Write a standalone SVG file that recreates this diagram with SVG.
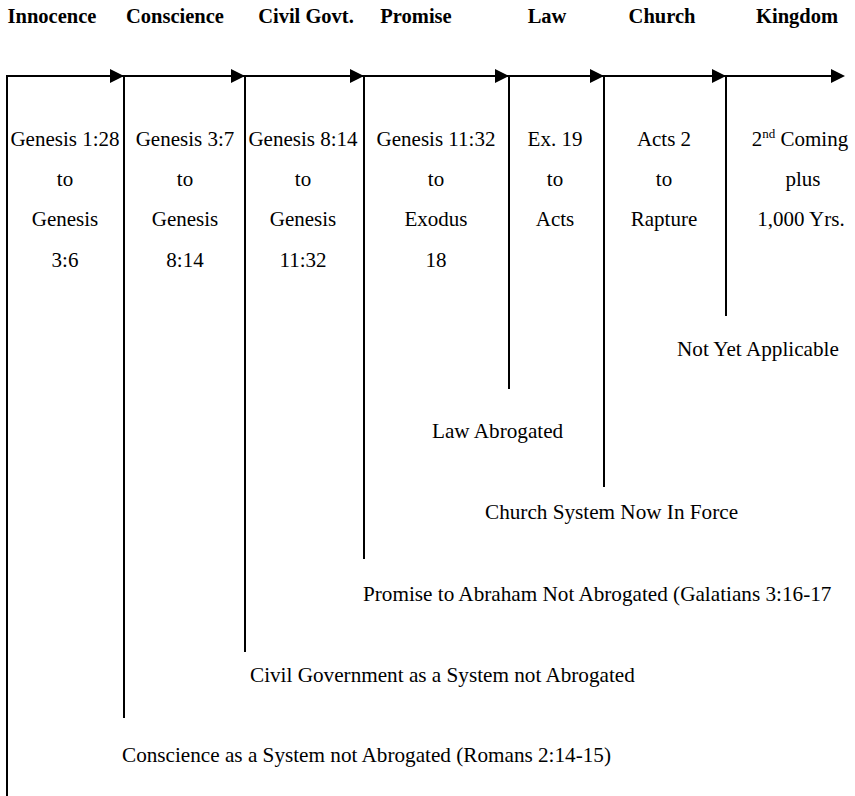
<svg xmlns="http://www.w3.org/2000/svg" width="855" height="796" viewBox="0 0 855 796">
<style>
.hd{font-family:"Liberation Serif","Times New Roman",serif;font-weight:bold;font-size:20.5px;fill:#000;text-anchor:middle}
.bd{font-family:"Liberation Serif","Times New Roman",serif;font-size:21px;fill:#000;text-anchor:middle}
.lb{font-family:"Liberation Serif","Times New Roman",serif;font-size:21.2px;fill:#000}
.ln{stroke:#000;stroke-width:2;fill:none}
.ah{fill:#000}
</style>
<rect width="855" height="796" fill="#fff"/>
<g id="connectors">
<line class="ln" x1="7" y1="76" x2="832" y2="76"/>
<line class="ln" x1="7" y1="75" x2="7" y2="796"/>
<line class="ln" x1="124" y1="76" x2="124" y2="718"/>
<line class="ln" x1="245" y1="76" x2="245" y2="652"/>
<line class="ln" x1="364" y1="76" x2="364" y2="559"/>
<line class="ln" x1="509" y1="76" x2="509" y2="389"/>
<line class="ln" x1="604" y1="76" x2="604" y2="487"/>
<line class="ln" x1="726" y1="76" x2="726" y2="316"/>
<polygon class="ah" points="110,69 124,76 110,83"/>
<polygon class="ah" points="231,69 245,76 231,83"/>
<polygon class="ah" points="350,69 364,76 350,83"/>
<polygon class="ah" points="495,69 509,76 495,83"/>
<polygon class="ah" points="590,69 604,76 590,83"/>
<polygon class="ah" points="712,69 726,76 712,83"/>
<polygon class="ah" points="831,69 845,76 831,83"/>
</g>
<g id="innocence">
<text class="hd" x="52" y="23">Innocence</text>
<text class="bd" x="65" y="146">Genesis 1:28</text>
<text class="bd" x="65" y="186">to</text>
<text class="bd" x="65" y="226">Genesis</text>
<text class="bd" x="65" y="267">3:6</text>
<text class="lb" x="122" y="762">Conscience as a System not Abrogated (Romans 2:14-15)</text>
</g>
<g id="conscience">
<text class="hd" x="175" y="23">Conscience</text>
<text class="bd" x="185" y="146">Genesis 3:7</text>
<text class="bd" x="185" y="186">to</text>
<text class="bd" x="185" y="226">Genesis</text>
<text class="bd" x="185" y="267">8:14</text>
<text class="lb" x="250" y="682">Civil Government as a System not Abrogated</text>
</g>
<g id="civil">
<text class="hd" x="306" y="23">Civil Govt.</text>
<text class="bd" x="303" y="146">Genesis 8:14</text>
<text class="bd" x="303" y="186">to</text>
<text class="bd" x="303" y="226">Genesis</text>
<text class="bd" x="303" y="267">11:32</text>
<text class="lb" x="363" y="601">Promise to Abraham Not Abrogated (Galatians 3:16-17</text>
</g>
<g id="promise">
<text class="hd" x="416" y="23">Promise</text>
<text class="bd" x="436" y="146">Genesis 11:32</text>
<text class="bd" x="436" y="186">to</text>
<text class="bd" x="436" y="226">Exodus</text>
<text class="bd" x="436" y="267">18</text>
</g>
<g id="law">
<text class="hd" x="547" y="23">Law</text>
<text class="bd" x="555" y="146">Ex. 19</text>
<text class="bd" x="555" y="186">to</text>
<text class="bd" x="555" y="226">Acts</text>
<text class="lb" x="432" y="438">Law Abrogated</text>
</g>
<g id="church">
<text class="hd" x="662" y="23">Church</text>
<text class="bd" x="664" y="146">Acts 2</text>
<text class="bd" x="664" y="186">to</text>
<text class="bd" x="664" y="226">Rapture</text>
<text class="lb" x="485" y="519">Church System Now In Force</text>
</g>
<g id="kingdom">
<text class="hd" x="797" y="23">Kingdom</text>
<text class="bd" x="800" y="146">2<tspan font-size="13" dy="-8">nd</tspan><tspan dy="8"> Coming</tspan></text>
<text class="bd" x="803" y="186">plus</text>
<text class="bd" x="801" y="226">1,000 Yrs.</text>
<text class="lb" x="677" y="356">Not Yet Applicable</text>
</g>
</svg>
